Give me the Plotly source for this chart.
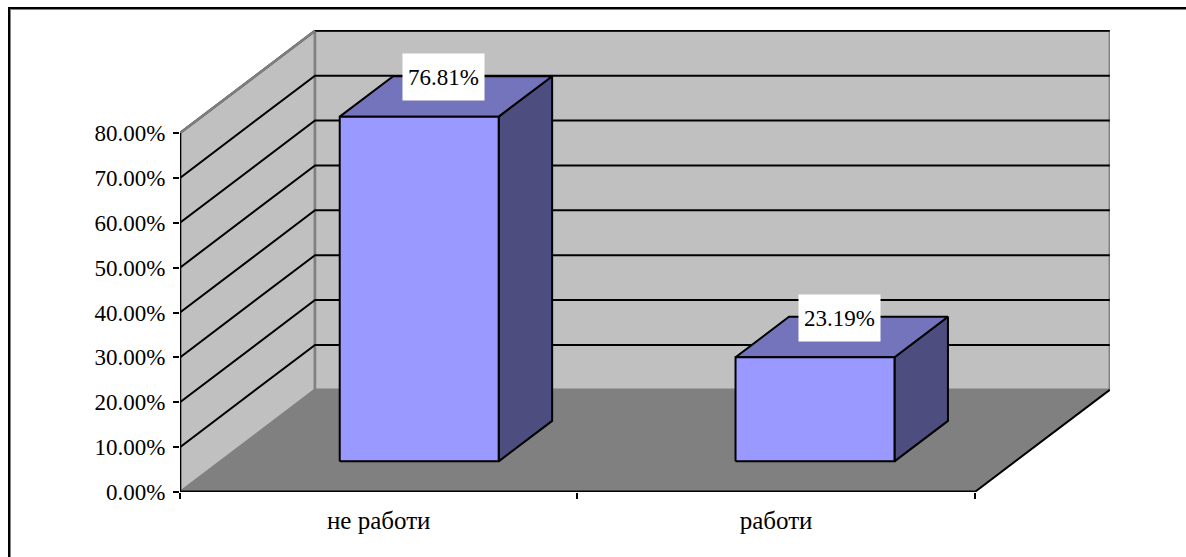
import plotly.graph_objects as go

categories = ["не работи", "работи"]
values = [76.81, 23.19]
value_ticks = [0, 10, 20, 30, 40, 50, 60, 70, 80]
category_edges = [0, 1, 2]
bar_centers = [0.5, 1.496]

# oblique projection of the 3-D box, expressed in axis units per unit of depth
DEPTH_X = 0.3397
DEPTH_Y = 22.77
BAR_HALF = 0.2
BAR_D0, BAR_D1 = 0.30, 0.696
X_MAX = category_edges[-1]
Y_MAX = value_ticks[-1]

WIDTH, HEIGHT = 1186, 557
ML, MR, MT, MB = 180, 76, 30, 65
FONT = "Liberation Serif"


def proj(x, y, d=0.0):
    return x + d * DEPTH_X, y + d * DEPTH_Y


fig = go.Figure()


def poly(points, fill=None, line="black", width=2):
    pts = [proj(*p) for p in points]
    xs = [p[0] for p in pts]
    ys = [p[1] for p in pts]
    if fill:
        xs.append(xs[0])
        ys.append(ys[0])
    fig.add_trace(go.Scatter(
        x=xs, y=ys, mode="lines",
        fill="toself" if fill else None,
        fillcolor=fill,
        line=dict(color=line, width=width),
        hoverinfo="skip", showlegend=False, cliponaxis=False,
    ))


# walls and floor
poly([(0, 0, 0), (0, Y_MAX, 0), (0, Y_MAX, 1), (0, 0, 1)], fill="#C0C0C0", line="#808080", width=2.5)
poly([(0, 0, 1), (X_MAX, 0, 1), (X_MAX, Y_MAX, 1), (0, Y_MAX, 1)], fill="#C0C0C0", line="#808080", width=2.5)
poly([(0, 0, 0), (X_MAX, 0, 0), (X_MAX, 0, 1), (0, 0, 1)], fill="#808080", line="#808080", width=1)
poly([(X_MAX, 0, 0), (X_MAX, 0, 1)], line="black", width=2)

# gridlines
for v in value_ticks[1:]:
    poly([(0, v, 0), (0, v, 1), (X_MAX, v, 1)], line="black", width=2)
poly([(0, Y_MAX, 0), (0, Y_MAX, 1)], line="#808080", width=2.5)

# bars
for c, v in zip(bar_centers, values):
    x0, x1 = c - BAR_HALF, c + BAR_HALF
    poly([(x1, 0, BAR_D0), (x1, 0, BAR_D1), (x1, v, BAR_D1), (x1, v, BAR_D0)], fill="#4D4D80")
    poly([(x0, v, BAR_D0), (x1, v, BAR_D0), (x1, v, BAR_D1), (x0, v, BAR_D1)], fill="#7474BC")
    poly([(x0, 0, BAR_D0), (x1, 0, BAR_D0), (x1, v, BAR_D0), (x0, v, BAR_D0)], fill="#9999FF")

# axis lines
poly([(0, 0, 0), (0, Y_MAX, 0)], line="black", width=2.5)
poly([(0, 0, 0), (X_MAX, 0, 0)], line="black", width=3)

# data labels
annotations = []
for c, v in zip(bar_centers, values):
    lx, _ = proj(c, v, (BAR_D0 + BAR_D1) / 2)
    _, ly = proj(c, v, BAR_D1)
    annotations.append(dict(
        x=lx - 0.006, y=ly, yshift=-1, text=f"{v:.2f}%", showarrow=False,
        bgcolor="white", width=79, height=44, xanchor="center", yanchor="middle",
        font=dict(family=FONT, size=23, color="black"),
    ))

fig.update_layout(
    width=WIDTH, height=HEIGHT,
    margin=dict(l=ML, r=MR, t=MT, b=MB, pad=0, autoexpand=False),
    paper_bgcolor="white", plot_bgcolor="white",
    showlegend=False,
    annotations=annotations,
    font=dict(family=FONT, size=23, color="black"),
    xaxis=dict(
        range=[0, (WIDTH - ML - MR) / 397.4],
        tickvals=[0.5, 1.5], ticktext=categories,
        tickfont=dict(family=FONT, size=25, color="black"),
        ticks="outside", ticklen=6, tickcolor="rgba(0,0,0,0)",
        minor=dict(tickvals=category_edges, ticks="outside", ticklen=6, tickwidth=2, tickcolor="black"),
        showgrid=False, zeroline=False, showline=False, fixedrange=True,
    ),
    yaxis=dict(
        range=[0, (HEIGHT - MT - MB) / 4.4875],
        tickvals=value_ticks, ticktext=[f"{v:.2f}%" for v in value_ticks],
        ticks="outside", ticklen=6, tickwidth=2, tickcolor="black",
        ticklabelstandoff=3,
        showgrid=False, zeroline=False, showline=False, fixedrange=True,
    ),
)


def px(x):
    return (x - ML) / (WIDTH - ML - MR)


def py(y):
    return 1 - (y - MT) / (HEIGHT - MT - MB)


def frame_line(x0, y0, x1, y1, color, w):
    fig.add_shape(type="line", xref="paper", yref="paper",
                  x0=px(x0), y0=py(y0), x1=px(x1), y1=py(y1),
                  line=dict(color=color, width=w), layer="above")


frame_line(11, 9.5, WIDTH, 9.5, "#808080", 1)
frame_line(10.5, 9, 10.5, HEIGHT, "#808080", 1)
frame_line(8, 8, WIDTH, 8, "black", 2)
frame_line(9, 7, 9, HEIGHT, "black", 2)

fig.write_html("out.html", config={"displayModeBar": False},
               post_script="document.body.style.margin='0';")
